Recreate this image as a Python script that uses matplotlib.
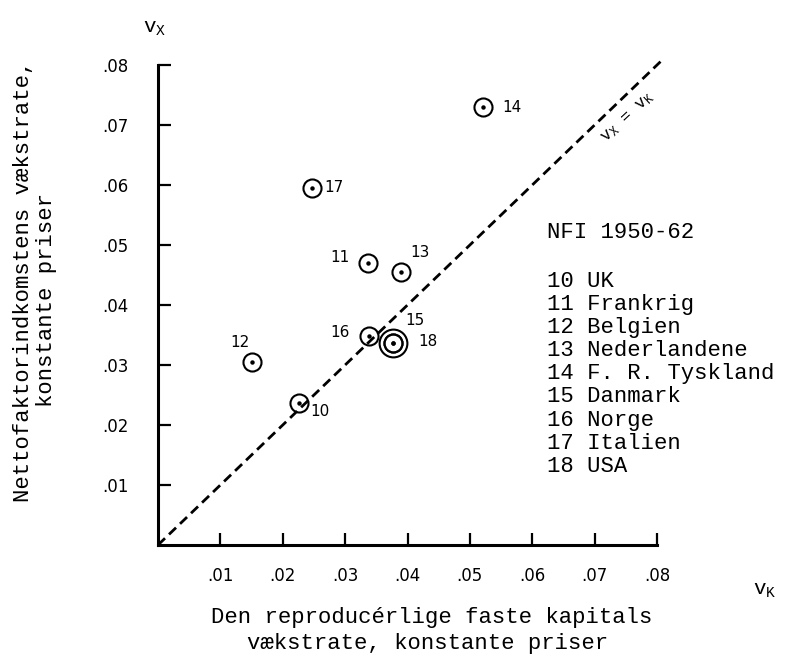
import matplotlib
import matplotlib.pyplot as plt
import numpy as np

matplotlib.use('Agg')

# Lande (NFI 1950-62): kapitalens og nettofaktorindkomstens vækstrate
codes = [10, 11, 12, 13, 14, 15, 16, 17, 18]
names = ['UK', 'Frankrig', 'Belgien', 'Nederlandene', 'F. R. Tyskland',
         'Danmark', 'Norge', 'Italien', 'USA']
v_k = [0.0226, 0.0337, 0.0151, 0.0389, 0.0521, 0.0377, 0.0338, 0.0247, 0.0377]
v_x = [0.0237, 0.0470, 0.0305, 0.0455, 0.0730, 0.0337, 0.0348, 0.0595, 0.0337]

# label offsets (points) for the country numbers
label_dx = [15, -20, -9, 14, 21, 16, -21, 16, 25]
label_dy = [-6, 4, 14, 14, 0, 16, 3, 0, 1]

ticks = [0.01, 0.02, 0.03, 0.04, 0.05, 0.06, 0.07, 0.08]
tick_labels = ['.01', '.02', '.03', '.04', '.05', '.06', '.07', '.08']

W, H = 793, 667
mono = 'Liberation Mono'
plt.rcParams['mathtext.fontset'] = 'custom'
plt.rcParams['mathtext.rm'] = mono
plt.rcParams['mathtext.it'] = mono


def px(x, y):
    return x / W, 1 - y / H


def plot_chart():
    fig = plt.figure(figsize=(W / 100, H / 100), dpi=100)
    ax = fig.add_axes([158 / W, 1 - 545 / H, 499 / W, 480 / H])
    ax.set_xlim(0, 0.08)
    ax.set_ylim(0, 0.08)

    for s in ['top', 'right']:
        ax.spines[s].set_visible(False)
    for s in ['left', 'bottom']:
        ax.spines[s].set_linewidth(2.2)

    ax.set_xticks(ticks)
    ax.set_xticklabels(tick_labels)
    ax.set_yticks(ticks)
    ax.set_yticklabels(tick_labels)
    ax.tick_params(axis='both', direction='in', length=9, width=1.6,
                   labelsize=12, color='black')
    ax.tick_params(axis='x', pad=16)
    ax.tick_params(axis='y', pad=21)

    # linien vX = vK
    diag = np.array([0, 0.081])
    ax.plot(diag, diag, color='black', lw=2.0, dashes=(3.5, 2.0),
            clip_on=False, zorder=2)
    ax.text(0.0753, 0.0712, r'$\mathrm{v_X}$ = $\mathrm{v_K}$', rotation=43,
            rotation_mode='anchor', ha='center', va='center',
            fontsize=12, family=mono)

    # cirkler med centerpunkt
    ax.plot(v_k, v_x, 'o', ms=13, mfc='none', mec='black', mew=1.5,
            zorder=3, clip_on=False)
    ax.plot(v_k, v_x, 'o', ms=2.2, color='black', zorder=3)
    # Danmark og USA falder sammen: ekstra ring
    ax.plot(v_k[5], v_x[5], 'o', ms=20, mfc='none', mec='black', mew=1.5,
            zorder=3)

    for c, x, y, dx, dy in zip(codes, v_k, v_x, label_dx, label_dy):
        ax.annotate(str(c), (x, y), xytext=(dx, dy), textcoords='offset points',
                    ha='center', va='center', fontsize=11)

    # akse-betegnelser
    fig.text(*px(155, 28), r'$\mathrm{v_X}$', fontsize=15, family=mono,
             ha='center', va='center')
    fig.text(*px(765, 590), r'$\mathrm{v_K}$', fontsize=15, family=mono,
             ha='center', va='center')

    fig.text(*px(24, 281), 'Nettofaktorindkomstens vækstrate,', rotation=90,
             fontsize=16, family=mono, ha='center', va='center')
    fig.text(*px(47, 300), 'konstante priser', rotation=90,
             fontsize=16, family=mono, ha='center', va='center')

    fig.text(*px(432, 617), 'Den reproducérlige faste kapitals',
             fontsize=16, family=mono, ha='center', va='center')
    fig.text(*px(428, 643), 'vækstrate, konstante priser',
             fontsize=16, family=mono, ha='center', va='center')

    # forklaring
    fig.text(*px(547, 233), 'NFI 1950-62', fontsize=16, family=mono,
             ha='left', va='center')
    for i, (c, n) in enumerate(zip(codes, names)):
        fig.text(*px(547, 281 + i * 23.2), f'{c} {n}', fontsize=16,
                 family=mono, ha='left', va='center')

    fig.savefig('out.png', dpi=100)


plot_chart()
